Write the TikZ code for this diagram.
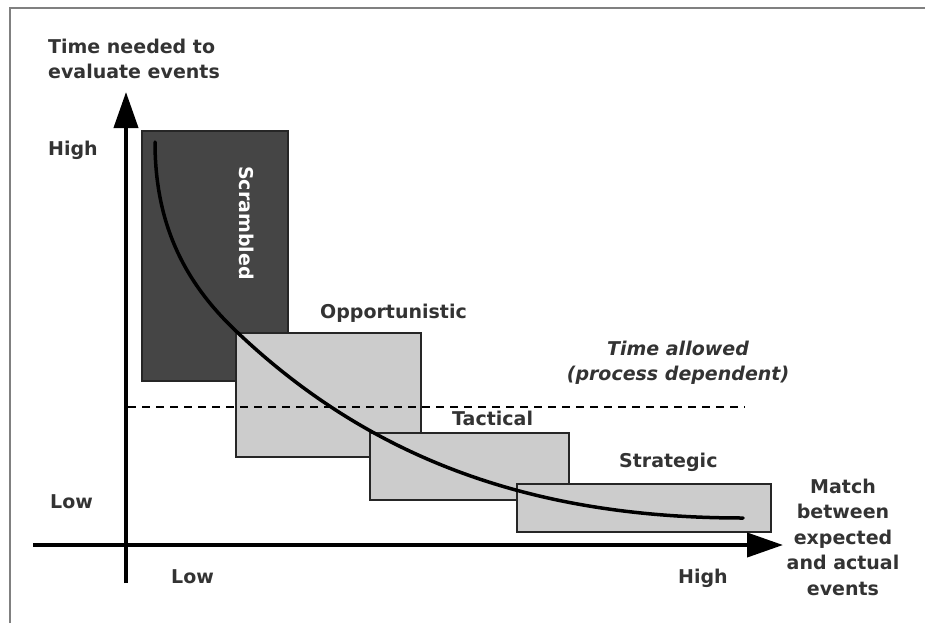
\documentclass[tikz,border=0pt]{standalone}
\usepackage{fontspec}
\setmainfont{DejaVu Sans}
\usetikzlibrary{arrows.meta,positioning}

\begin{document}
\begin{tikzpicture}[x=1pt, y=-1pt,
    lbl/.style = {font=\fontsize{19}{25.5}\selectfont\bfseries, text=black!80, inner sep=0pt},
    lblit/.style = {lbl, font=\fontsize{19}{25.5}\selectfont\bfseries\itshape},
    region/.style = {draw=black!85, line width=1.5pt, fill=black!20, anchor=north west, inner sep=0pt},
    axis/.style = {line width=4pt, -{Triangle[length=36pt, width=24pt]}}]
    \useasboundingbox (0,0) rectangle (925,623);
    \draw[black!50, line width=2pt] (10,623) -- (10,8) -- (925,8);

    % regions
    \node[region, fill=black!73, minimum width=146pt, minimum height=250pt] (scr) at (141,130) {};
    \node[region, minimum width=185pt, minimum height=124pt] (opp) at (235,332) {};
    \node[region, minimum width=199pt, minimum height=67pt] (tac) at (369,432) {};
    \node[region, minimum width=254pt, minimum height=48pt] (str) at (516,483) {};

    % time allowed
    \coordinate (ta1) at (128,407);
    \coordinate (ta2) at (745,407);
    \draw[dash pattern=on 8pt off 6pt, line width=1.5pt] (ta1) -- (ta2);

    % curve
    \coordinate (c1) at (155,142);
    \coordinate (c2) at (237,332);
    \coordinate (c3) at (743,518);
    \draw[line width=3.5pt, line cap=round] (c1) .. controls (155,225) and (185,283) .. (c2)
        .. controls (377,465) and (543,518) .. (c3);

    % axes
    \coordinate (ybot) at (126,583);
    \coordinate (ytop) at (126,92);
    \coordinate (xleft) at (33,545);
    \coordinate (xright) at (783,545);
    \draw[axis] (ybot) -- (ytop);
    \draw[axis] (xleft) -- (xright);

    \node[lbl, anchor=north west, align=left] (ylabel) at (48,38.5) {Time needed to\\evaluate events};
    \node[lbl, anchor=base west] (yhigh) at (48,155) {High};
    \node[lbl, anchor=base west] (ylow) at (50,508) {Low};
    \node[lbl, anchor=base west] (xlow) at (171,583) {Low};
    \node[lbl, anchor=base west] (xhigh) at (678,583) {High};
    \node[lbl, anchor=north, align=center] (xlabel) at (843,478.6) {Match\\between\\expected\\and actual\\events};

    \node[lbl, text=white, rotate=-90] (scrlbl) at (247,223) {Scrambled};
    \node[lbl, anchor=base west] (opplbl) at (320,318) {Opportunistic};
    \node[lbl, anchor=base west] (taclbl) at (452,425) {Tactical};
    \node[lbl, anchor=base west] (strlbl) at (619,467) {Strategic};
    \node[lblit, anchor=north, align=center] (talbl) at (678,340.6) {Time allowed\\(process dependent)};
\end{tikzpicture}
\end{document}
